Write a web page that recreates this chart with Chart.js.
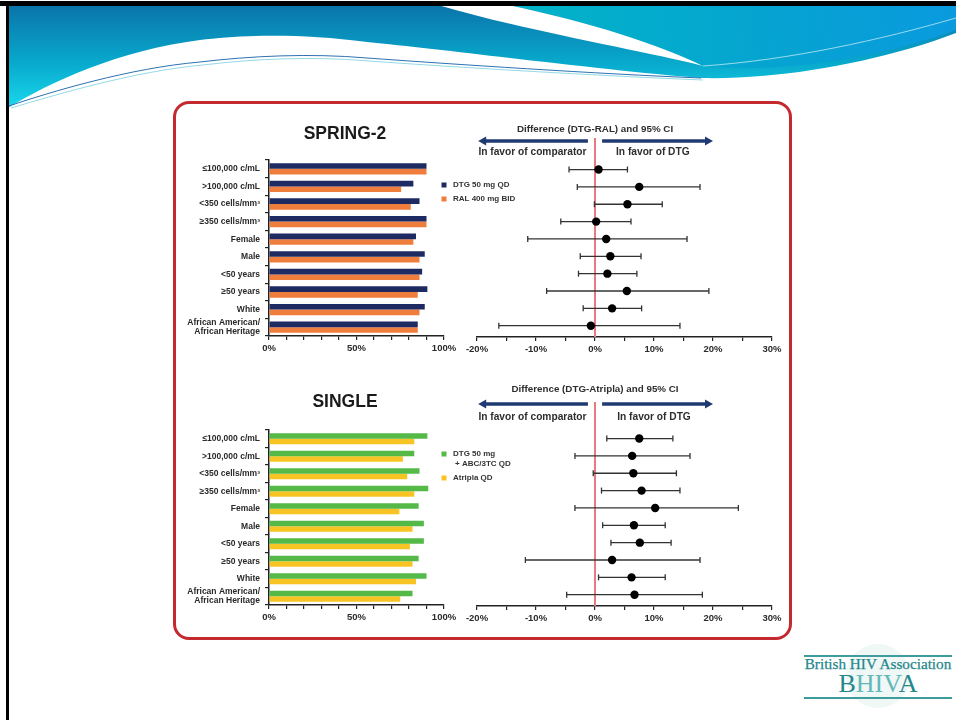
<!DOCTYPE html>
<html>
<head>
<meta charset="utf-8">
<title>SPRING-2 and SINGLE subgroup responses</title>
<script src="https://cdn.jsdelivr.net/npm/chart.js@4/dist/chart.umd.min.js"></script>
<style>
  html, body { margin: 0; padding: 0; background: #fff; }
  #slide { position: relative; width: 956px; height: 720px; overflow: hidden; background: #fff;
           font-family: "Liberation Sans", Arial, sans-serif; }
  #deco { position: absolute; left: 0; top: 0; }
  .edge { position: absolute; background: #000; }
  #frame { position: absolute; left: 173px; top: 101px; width: 619px; height: 539px; box-sizing: border-box;
           border: 3px solid #c4292f; border-radius: 16px; }
  canvas { position: absolute; }
  #logo .rule { position: absolute; left: 804px; width: 148px; height: 1.5px; background: #3f9c9c; }
  #logo .t1 { position: absolute; left: 790px; width: 176px; top: 655px; text-align: center;
              font: 15.2px/17px "Liberation Serif", "Times New Roman", serif; color: #24878a;
              -webkit-text-stroke: 0.25px #24878a; }
  #logo .t2 { position: absolute; left: 790px; width: 176px; top: 670px; text-align: center;
              font: 26px/28px "Liberation Serif", "Times New Roman", serif; color: #24878a; }
  #logo .t2 span { color: #63b8b8; }
  #logo .seal { position: absolute; left: 846px; top: 644px; width: 64px; height: 64px; border-radius: 50%;
                background: #f0f7f7; }
</style>
</head>
<body>
<div id="slide">
  <svg id="deco" width="956" height="720" viewBox="0 0 956 720">
    <defs>
      <linearGradient id="waveLeft" x1="0" y1="110" x2="0" y2="5" gradientUnits="userSpaceOnUse">
        <stop offset="0" stop-color="#1adbee"/>
        <stop offset="0.45" stop-color="#08a9cc"/>
        <stop offset="1" stop-color="#0a74a9"/>
      </linearGradient>
      <linearGradient id="waveRight" x1="520" y1="60" x2="956" y2="5" gradientUnits="userSpaceOnUse">
        <stop offset="0" stop-color="#02b4c8"/>
        <stop offset="0.55" stop-color="#05a4d0"/>
        <stop offset="1" stop-color="#0a9adf"/>
      </linearGradient>
    </defs>
    <path d="M8,108 C50,82 120,50 200,40 C240,35 300,33 367,42 C450,50 600,70 701,78 C780,80 880,62 956,33 V5 H8 Z" fill="url(#waveLeft)"/>
    <path d="M508,5 C590,22 660,45 703,66 C780,74 880,58 956,30 V5 Z" fill="url(#waveRight)"/>
    <path d="M438,5 H508 C590,22 660,45 703,66 C640,50 530,32 438,5 Z" fill="#ffffff"/>
    <path d="M703,66 C790,60 880,40 956,18" fill="none" stroke="#bfeaf2" stroke-width="0.8"/>
    <path d="M9,106 C50,92 130,68 200,62 C250,56 310,53 367,58 C450,64 600,74 701,78" fill="none" stroke="#2d72b2" stroke-width="1"/>
    <path d="M11,108 C55,95 135,71 203,65 C252,59 312,56 369,61 C452,67 602,76 703,80" fill="none" stroke="#79cfdd" stroke-width="0.8"/>
  </svg>
  <div class="edge" style="left:0;top:1px;width:956px;height:5px"></div>
  <div class="edge" style="left:6px;top:1px;width:3px;height:719px"></div>

  <div id="frame"></div>

  <canvas id="springBars" width="340" height="250" style="left:175px;top:112px"></canvas>
  <canvas id="springDiff" width="330" height="250" style="left:460px;top:112px"></canvas>
  <canvas id="singleBars" width="340" height="251" style="left:175px;top:380px"></canvas>
  <canvas id="singleDiff" width="330" height="251" style="left:460px;top:380px"></canvas>

  <div id="logo">
    <div class="seal"></div>
    <div class="rule" style="top:655px"></div>
    <div class="t1">British HIV Association</div>
    <div class="t2">B<span>HIV</span>A</div>
    <div class="rule" style="top:697px"></div>
  </div>
</div>

<script>
Chart.defaults.font.family = '"Liberation Sans", Arial, sans-serif';
Chart.defaults.color = '#2e2e2e';
Chart.defaults.animation = false;

// Subgroups shared by both studies (top to bottom)
const subgroups = [
  '≤100,000 c/mL',
  '>100,000 c/mL',
  '<350 cells/mm³',
  '≥350 cells/mm³',
  'Female',
  'Male',
  '<50 years',
  '≥50 years',
  'White',
  ['African American/', 'African Heritage']
];

// Labelled ticks on the response (%) and difference (%) axes
const responseTickLabels = [0, 50, 100];
const differenceTickLabels = [-20, -10, 0, 10, 20, 30];

// SPRING-2: response rates (%) and DTG-RAL difference with 95% CI
const springSeries = ['DTG 50 mg QD', 'RAL 400 mg BID'];
const springDtg = [90, 82.5, 86, 90, 84, 89, 87.5, 90.5, 89, 85];
const springRal = [90, 75.5, 81, 90, 82.5, 86, 86, 85, 86, 85];
const springDiff = [0.6, 7.5, 5.5, 0.2, 1.9, 2.6, 2.1, 5.4, 2.9, -0.7];
const springLow = [-4.4, -3.0, -0.1, -5.8, -11.4, -2.5, -2.8, -8.2, -2.0, -16.3];
const springHigh = [5.5, 17.8, 11.4, 6.1, 15.6, 7.8, 7.1, 19.3, 7.9, 14.4];

// SINGLE: response rates (%) and DTG-Atripla difference with 95% CI
const singleSeries = ['DTG 50 mg\n+ ABC/3TC QD', 'Atripla QD'];
const singleDtg = [90.5, 83, 86, 91, 85.5, 88.5, 88.5, 85.5, 90, 82];
const singleAtripla = [83, 76.5, 79, 83, 74.5, 82, 80.5, 82, 84, 75];
const singleDiff = [7.5, 6.3, 6.5, 7.9, 10.2, 6.6, 7.6, 2.9, 6.2, 6.7];
const singleLow = [2.0, -3.4, -0.3, 1.1, -3.4, 1.3, 2.7, -11.8, 0.6, -4.8];
const singleHigh = [13.2, 16.1, 13.8, 14.4, 24.3, 11.9, 12.9, 17.8, 11.9, 18.2];

const FONT = '"Liberation Sans", Arial, sans-serif';

// Small legend to the right of the bars, built from the dataset labels/colours
const sideLegend = {
  id: 'sideLegend',
  afterDraw(chart, _args, o) {
    const { ctx, chartArea } = chart;
    ctx.save();
    ctx.font = 'bold 8px ' + FONT;
    ctx.textBaseline = 'middle';
    ctx.textAlign = 'left';
    let y = chartArea.top + o.top;
    chart.data.datasets.forEach(ds => {
      ctx.fillStyle = ds.backgroundColor;
      ctx.fillRect(chartArea.right - 2.5, y - 2.5, 5, 5);
      ctx.fillStyle = '#333';
      ds.label.split('\n').forEach((line, k) => {
        ctx.fillText(line, chartArea.right + (k ? 11 : 9), y);
        y += o.lineGap;
      });
      y += o.itemGap - o.lineGap;
    });
    ctx.restore();
  }
};

// Zero reference line, heading and direction arrows above the difference plot
const diffHeader = {
  id: 'diffHeader',
  beforeDatasetsDraw(chart, _args, o) {
    const { ctx, chartArea, scales: { x } } = chart;
    const x0 = x.getPixelForValue(0);
    ctx.save();
    ctx.strokeStyle = '#ea7a82';
    ctx.lineWidth = 2;
    ctx.beginPath();
    ctx.moveTo(x0, o.lineTop);
    ctx.lineTo(x0, chartArea.bottom);
    ctx.stroke();
    ctx.restore();
  },
  afterDraw(chart, _args, o) {
    const { ctx, scales: { x } } = chart;
    ctx.save();
    ctx.fillStyle = '#2e2e2e';
    ctx.textAlign = 'center';
    ctx.textBaseline = 'middle';
    ctx.font = 'bold 9.8px ' + FONT;
    ctx.fillText(o.title, x.getPixelForValue(0), o.titleY);
    ctx.font = 'bold 10.2px ' + FONT;
    ctx.fillText(o.comparator, x.getPixelForValue(o.comparatorAt), o.captionY);
    ctx.fillText(o.favour, x.getPixelForValue(o.favourAt), o.captionY);

    const arrow = (fromV, toV) => {
      const a = x.getPixelForValue(fromV);
      const b = x.getPixelForValue(toV);
      const dir = Math.sign(b - a);
      const y = o.arrowY;
      ctx.strokeStyle = '#1f3a72';
      ctx.fillStyle = '#1f3a72';
      ctx.lineWidth = 3.4;
      ctx.beginPath();
      ctx.moveTo(a, y);
      ctx.lineTo(b - dir * 6, y);
      ctx.stroke();
      ctx.beginPath();
      ctx.moveTo(b, y);
      ctx.lineTo(b - dir * 8, y - 4.5);
      ctx.lineTo(b - dir * 8, y + 4.5);
      ctx.closePath();
      ctx.fill();
    };
    arrow(-o.arrowInner, o.arrowLeft);
    arrow(o.arrowInner, o.arrowRight);
    ctx.restore();
  }
};

function responseChart(id, title, names, first, second, colours, titleBottom, legendTop) {
  return new Chart(document.getElementById(id), {
    type: 'bar',
    data: {
      labels: subgroups,
      datasets: [
        { label: names[0], data: first, backgroundColor: colours[0] },
        { label: names[1], data: second, backgroundColor: colours[1] }
      ]
    },
    options: {
      indexAxis: 'y',
      responsive: false,
      animation: false,
      events: [],
      layout: { padding: 0 },
      datasets: { bar: { categoryPercentage: 0.64, barPercentage: 1, borderWidth: 0 } },
      plugins: {
        legend: { display: false },
        tooltip: { enabled: false },
        title: {
          display: true, text: title, color: '#1a1a1a',
          font: { size: 17.5, weight: 'bold' },
          padding: { top: 12, bottom: titleBottom }
        },
        sideLegend: { top: legendTop, lineGap: 10, itemGap: 14 }
      },
      scales: {
        y: {
          afterFit: s => { s.width = 94; },
          grid: { drawOnChartArea: false, tickLength: 4, color: '#222', lineWidth: 1.2, offset: true },
          border: { color: '#222', width: 1.5 },
          ticks: { autoSkip: false, padding: 5, color: '#2a2a2a', font: { size: 8.5, weight: 'bold', lineHeight: 1.05 } }
        },
        // empty column on the right that holds the legend
        legendSpace: {
          type: 'linear', position: 'right', axis: 'y',
          afterFit: s => { s.width = 71; },
          grid: { display: false }, border: { display: false }, ticks: { display: false }
        },
        x: {
          type: 'linear', min: 0, max: 100,
          afterFit: s => { s.height = 26; },
          grid: { drawOnChartArea: false, tickLength: 4, color: '#222', lineWidth: 1.2 },
          border: { color: '#222', width: 1.5 },
          ticks: {
            stepSize: 10, autoSkip: false, maxRotation: 0, padding: 3, color: '#2a2a2a',
            font: { size: 9.5, weight: 'bold' },
            callback: v => responseTickLabels.includes(v) ? v + '%' : ''
          }
        }
      }
    },
    plugins: [sideLegend]
  });
}

function differenceChart(id, diff, low, high, header, topPad) {
  const rows = diff.map((_, i) => i + 1);
  const estimates = {
    type: 'scatter',
    data: diff.map((d, i) => ({ x: d, y: rows[i] })),
    pointRadius: 4.2,
    pointBackgroundColor: '#000',
    pointBorderColor: '#000',
    pointBorderWidth: 0
  };
  const intervals = low.map((lo, i) => ({
    type: 'line',
    data: [{ x: lo, y: rows[i] }, { x: high[i], y: rows[i] }],
    borderColor: '#333',
    borderWidth: 1.3,
    pointStyle: 'line',
    pointRotation: 90,
    pointRadius: 3,
    pointBorderColor: '#333',
    pointBorderWidth: 1.3,
    fill: false
  }));
  return new Chart(document.getElementById(id), {
    type: 'scatter',
    data: { datasets: [estimates, ...intervals] },
    options: {
      responsive: false,
      animation: false,
      events: [],
      layout: { padding: { left: 17, right: 18, top: topPad, bottom: 0 } },
      plugins: { legend: { display: false }, tooltip: { enabled: false }, diffHeader: header },
      scales: {
        x: {
          type: 'linear', min: -20, max: 30,
          afterFit: s => { s.height = 25; },
          grid: { drawOnChartArea: false, tickLength: 4, color: '#222', lineWidth: 1.2 },
          border: { color: '#222', width: 1.5 },
          ticks: {
            stepSize: 5, autoSkip: false, maxRotation: 0, padding: 3, color: '#2a2a2a',
            font: { size: 9.5, weight: 'bold' },
            callback: v => differenceTickLabels.includes(v) ? v + '%' : ''
          }
        },
        y: { type: 'linear', display: false, reverse: true, min: 0.45, max: 10.65 }
      }
    },
    plugins: [diffHeader]
  });
}

responseChart('springBars', 'SPRING-2', springSeries, springDtg, springRal, ['#1e2b63', '#ef7d3c'], 15, 25);
responseChart('singleBars', 'SINGLE', singleSeries, singleDtg, singleAtripla, ['#55b948', '#f8c423'], 17, 24);

differenceChart('springDiff', springDiff, springLow, springHigh, {
  title: 'Difference (DTG-RAL) and 95% CI',
  comparator: 'In favor of comparator', favour: 'In favor of DTG',
  comparatorAt: -10.6, favourAt: 9.8,
  arrowInner: 1.2, arrowLeft: -19.8, arrowRight: 20,
  titleY: 17, arrowY: 29, captionY: 40, lineTop: 26
}, 48);

differenceChart('singleDiff', singleDiff, singleLow, singleHigh, {
  title: 'Difference (DTG-Atripla) and 95% CI',
  comparator: 'In favor of comparator', favour: 'In favor of DTG',
  comparatorAt: -10.6, favourAt: 10,
  arrowInner: 1.2, arrowLeft: -19.8, arrowRight: 20,
  titleY: 9, arrowY: 24, captionY: 37, lineTop: 22
}, 49);
</script>
</body>
</html>
